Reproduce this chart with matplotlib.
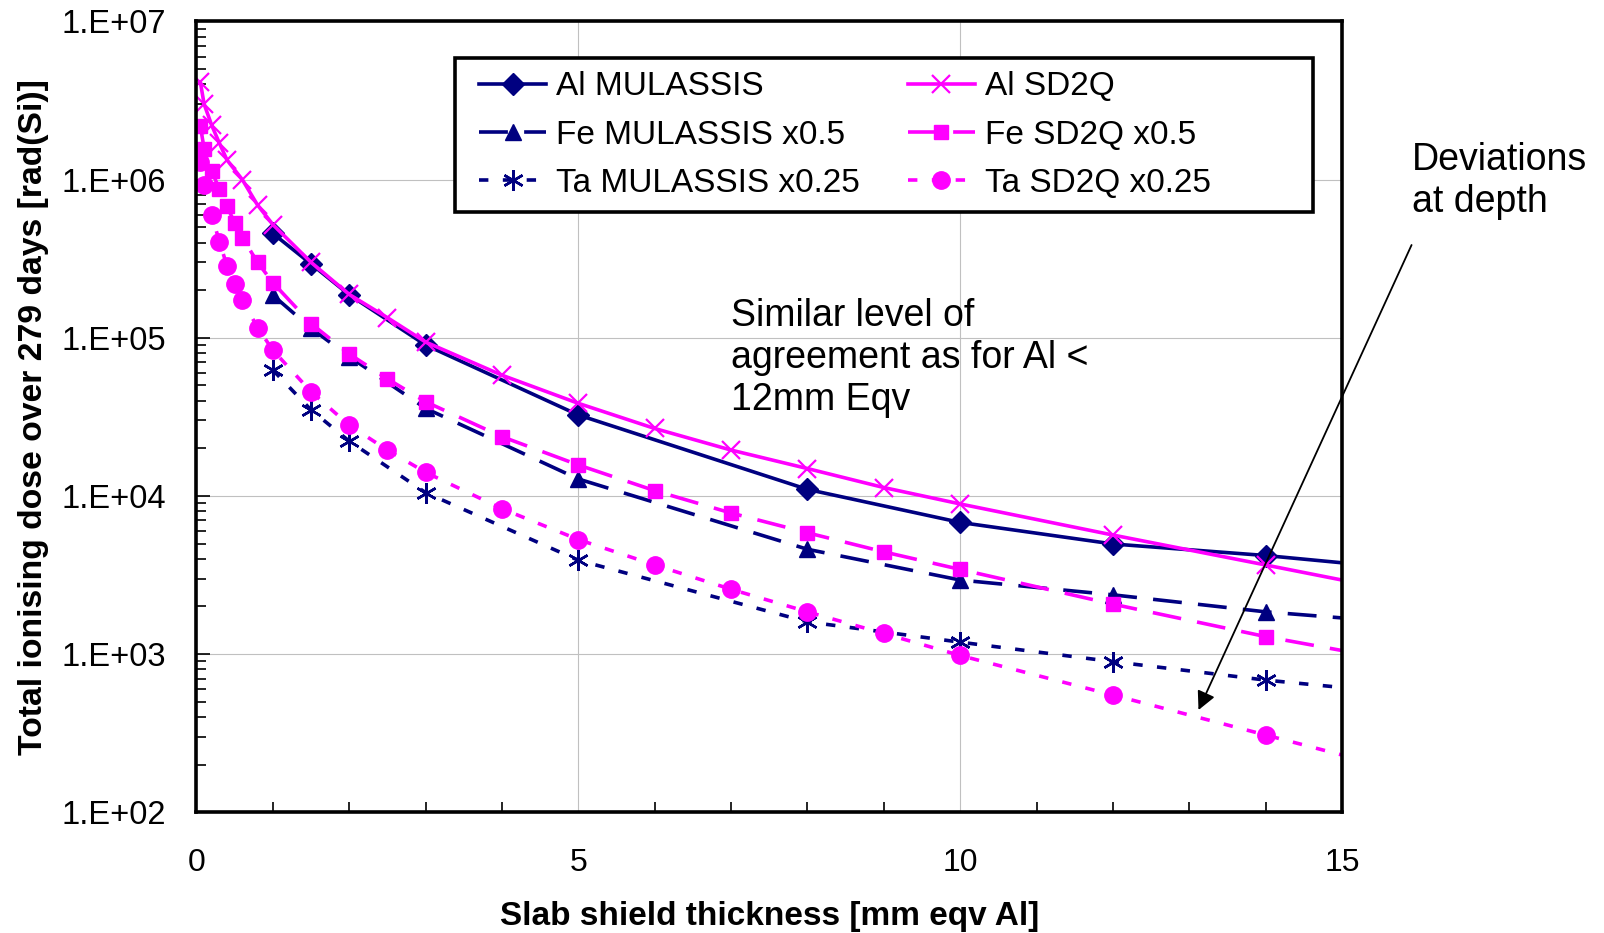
"""
Total ionising dose vs slab shield thickness: MULASSIS vs SD2Q comparison
for Al, Fe and Ta shields (log dose axis).
"""

import math

import matplotlib
matplotlib.use("Agg")
import matplotlib.pyplot as plt
from matplotlib.patches import Rectangle
from matplotlib.ticker import FixedLocator, FuncFormatter, LogLocator, NullFormatter

plt.rcParams['font.family'] = ['Liberation Sans', 'DejaVu Sans']

# --- data --------------------------------------------------------------
mul_x = [1, 1.5, 2, 3, 5, 8, 10, 12, 14, 16]
al_mul = [4.57e5, 2.93e5, 1.87e5, 9.0e4, 3.25e4, 1.1e4, 6.8e3, 4.97e3, 4.2e3, 3.4e3]
fe_mul = [1.86e5, 1.15e5, 7.6e4, 3.58e4, 1.28e4, 4.6e3, 2.94e3, 2.37e3, 1.85e3, 1.55e3]
ta_mul = [6.25e4, 3.5e4, 2.22e4, 1.05e4, 3.92e3, 1.6e3, 1.19e3, 896, 685, 552]

al_sd2q_x = [0.05, 0.1, 0.2, 0.3, 0.4, 0.6, 0.8, 1, 1.5, 2, 2.5, 3, 4, 5, 6, 7,
             8, 9, 10, 12, 14, 16]
al_sd2q = [4.15e6, 3.0e6, 2.2e6, 1.7e6, 1.33e6, 1.0e6, 6.9e5, 5.2e5, 3.0e5,
           1.88e5, 1.34e5, 9.4e4, 5.8e4, 3.85e4, 2.67e4, 1.95e4, 1.49e4,
           1.13e4, 8.9e3, 5.66e3, 3.66e3, 2.36e3]

sd2q_x = [0.05, 0.1, 0.2, 0.3, 0.4, 0.5, 0.6, 0.8, 1, 1.5, 2, 2.5, 3, 4, 5, 6,
          7, 8, 9, 10, 12, 14, 16]
fe_sd2q = [2.19e6, 1.57e6, 1.13e6, 8.7e5, 6.8e5, 5.3e5, 4.3e5, 3.0e5, 2.23e5,
           1.23e5, 7.9e4, 5.5e4, 3.94e4, 2.37e4, 1.57e4, 1.08e4, 7.8e3,
           5.85e3, 4.43e3, 3.43e3, 2.07e3, 1.29e3, 860]
ta_sd2q = [1.3e6, 9.3e5, 5.97e5, 4.05e5, 2.85e5, 2.18e5, 1.73e5, 1.16e5,
           8.35e4, 4.56e4, 2.8e4, 1.95e4, 1.41e4, 8.3e3, 5.3e3, 3.66e3,
           2.57e3, 1.85e3, 1.35e3, 980, 551, 308, 172]

NAVY = '#000080'
MAGENTA = '#FF00FF'
LW = 2.6
DASH = (8, 4.5)
DOT = (2.6, 4)

fig = plt.figure(figsize=(16.04, 9.33), dpi=100)
ax = fig.add_axes([0.1225, 0.1294, 0.7142, 0.8476])

# MULASSIS series first, SD2Q on top
ax.plot(mul_x, al_mul, color=NAVY, lw=LW, marker='D', ms=11,
        label='Al MULASSIS')
ax.plot(mul_x, fe_mul, color=NAVY, lw=LW, dashes=DASH, marker='^', ms=11,
        label='Fe MULASSIS x0.5')
ax.plot(mul_x, ta_mul, color=NAVY, lw=LW, dashes=DOT, marker=(6, 2, 0),
        ms=15, mew=1.8, label='Ta MULASSIS x0.25')
ax.plot(al_sd2q_x, al_sd2q, color=MAGENTA, lw=LW, marker='x', ms=13,
        mew=1.6, label='Al SD2Q')
ax.plot(sd2q_x, fe_sd2q, color=MAGENTA, lw=LW, dashes=DASH, marker='s',
        ms=9.5, label='Fe SD2Q x0.5')
ax.plot(sd2q_x, ta_sd2q, color=MAGENTA, lw=LW, dashes=DOT, marker='o',
        ms=12.5, label='Ta SD2Q x0.25')

ax.set_yscale('log')
ax.set_xlim(0, 15)
ax.set_ylim(1e2, 1e7)

ax.xaxis.set_major_locator(FixedLocator([0, 5, 10, 15]))
ax.xaxis.set_minor_locator(FixedLocator(range(0, 16)))
ax.yaxis.set_major_locator(LogLocator(base=10, numticks=10))
ax.yaxis.set_minor_locator(LogLocator(base=10, subs=range(2, 10), numticks=20))
ax.yaxis.set_major_formatter(FuncFormatter(lambda v, _: f"1.E+{int(round(math.log10(v))):02d}"))
ax.yaxis.set_minor_formatter(NullFormatter())

ax.tick_params(axis='both', which='both', direction='in')
ax.tick_params(axis='y', which='major', length=10, width=1.2, pad=22,
               labelsize=23.5)
ax.tick_params(axis='y', which='minor', length=7, width=1.2)
ax.tick_params(axis='x', which='major', length=0, pad=26, labelsize=23)
ax.tick_params(axis='x', which='minor', length=7, width=1.2)

ax.grid(True, which='major', color='#c0c0c0', lw=0.8)
for sp in ax.spines.values():
    sp.set_linewidth(2.6)

ax.set_xlabel('Slab shield thickness [mm eqv Al]', fontsize=24,
              fontweight='bold')
ax.xaxis.set_label_coords(0.5, -0.112)
ax.set_ylabel('Total ionising dose over 279 days [rad(Si)]', fontsize=24.3,
              fontweight='bold')
ax.yaxis.set_label_coords(-0.129, 0.5)

# legend with a wide box drawn separately
ax.add_patch(Rectangle((0.2257, 0.7591), 0.749, 0.1947, transform=ax.transAxes,
                       fill=True, facecolor='white', edgecolor='black',
                       lw=2.6, zorder=4))
leg = ax.legend(loc='upper left', bbox_to_anchor=(0.2323, 0.958), ncol=2,
                frameon=False, fontsize=24, borderpad=0, handlelength=2.0,
                handletextpad=0.3, columnspacing=1.45, labelspacing=0.52)
leg.set_zorder(5)

ax.text(0.467, 0.5745, 'Similar level of\nagreement as for Al <\n12mm Eqv',
        transform=ax.transAxes, fontsize=27, ha='left', va='center',
        linespacing=1.22)

fig.text(0.880, 0.806, 'Deviations\nat depth', fontsize=27, ha='left',
         va='center', linespacing=1.22)
ax.annotate('', xy=(13.12, 443), xytext=(15.91, 3.86e5),
            arrowprops=dict(arrowstyle='-|>', color='black', lw=1.3,
                            mutation_scale=28, shrinkA=0, shrinkB=0),
            annotation_clip=False)

fig.savefig('out.png', dpi=100)
